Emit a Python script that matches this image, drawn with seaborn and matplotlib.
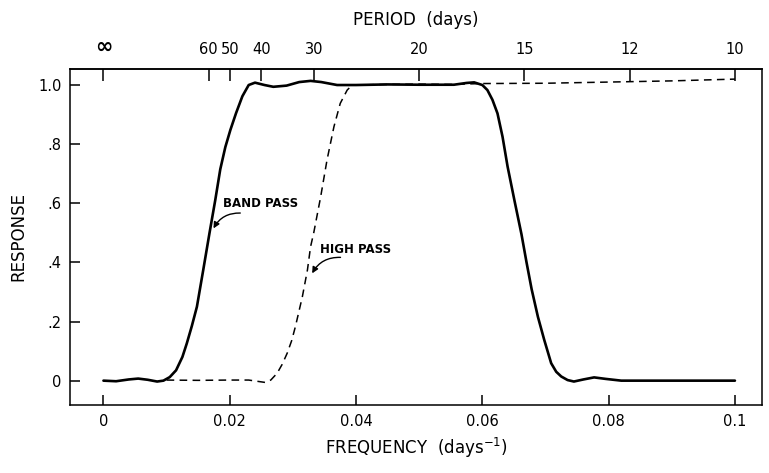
import numpy as np
import pandas as pd
import matplotlib
matplotlib.use("Agg")
import matplotlib.pyplot as plt
import seaborn as sns

# Band-pass filter response vs frequency (cycles/day)
band_freq = [0.000, 0.002, 0.004, 0.0055, 0.007, 0.0085, 0.0095, 0.0105, 0.0115,
             0.0125, 0.0132, 0.0140, 0.0148, 0.0158, 0.0168, 0.0177, 0.0185,
             0.0193, 0.0201, 0.0210, 0.0220, 0.0230, 0.0240, 0.0255, 0.0269,
             0.0290, 0.0310, 0.0328, 0.0345, 0.0370, 0.0400, 0.0450, 0.0500,
             0.0555, 0.0575, 0.0587, 0.0600, 0.0608, 0.0616, 0.0624, 0.0632,
             0.0640, 0.0651, 0.0662, 0.0670, 0.0678, 0.0688, 0.0698, 0.0709,
             0.0717, 0.0725, 0.0735, 0.0745, 0.0760, 0.0777, 0.0795, 0.0820,
             0.0900, 0.1000]
band_resp = [0.000, -0.002, 0.004, 0.007, 0.003, -0.003, 0.000, 0.012, 0.035,
             0.080, 0.126, 0.185, 0.250, 0.374, 0.500, 0.610, 0.715,
             0.790, 0.848, 0.905, 0.962, 1.000, 1.008, 1.000, 0.994,
             0.998, 1.010, 1.014, 1.010, 1.000, 1.000, 1.002, 1.001,
             1.001, 1.007, 1.009, 1.000, 0.983, 0.950, 0.904, 0.825,
             0.724, 0.608, 0.495, 0.400, 0.310, 0.216, 0.138, 0.059,
             0.030, 0.014, 0.002, -0.003, 0.004, 0.011, 0.006, 0.000,
             0.000, 0.000]

# High-pass filter response
high_freq = [0.0100, 0.0150, 0.0200, 0.0230, 0.0256, 0.0265, 0.0275, 0.0283,
             0.0291, 0.0298, 0.0304, 0.0315, 0.0323, 0.0328, 0.0333, 0.0344,
             0.0354, 0.0365, 0.0375, 0.0386, 0.0394, 0.0450, 0.0500, 0.0550,
             0.0600, 0.0700, 0.0800, 0.0900, 0.1000]
high_resp = [0.002, 0.001, 0.002, 0.002, -0.006, 0.002, 0.025, 0.055,
             0.093, 0.135, 0.183, 0.284, 0.374, 0.453, 0.500, 0.622,
             0.746, 0.859, 0.938, 0.983, 1.000, 1.002, 1.003, 1.002,
             1.005, 1.006, 1.010, 1.014, 1.020]

freq_ticks = [0, 0.02, 0.04, 0.06, 0.08, 0.1]
freq_labels = ["0", "0.02", "0.04", "0.06", "0.08", "0.1"]
resp_ticks = [0, 0.2, 0.4, 0.6, 0.8, 1.0]
resp_labels = ["0", ".2", ".4", ".6", ".8", "1.0"]
period_values = [np.inf, 60, 50, 40, 30, 20, 15, 12, 10]
period_labels = ["∞", "60", "50", "40", "30", "20", "15", "12", "10"]

sns.set_theme(style="ticks")
plt.rcParams["font.family"] = ["DejaVu Sans"]
for key in ("text.color", "axes.labelcolor", "xtick.color", "ytick.color",
            "axes.edgecolor"):
    plt.rcParams[key] = "black"

band = pd.DataFrame({"freq": band_freq, "resp": band_resp})
high = pd.DataFrame({"freq": high_freq, "resp": high_resp})

fig = plt.figure(figsize=(7.69, 4.73), dpi=100)
ax = fig.add_axes([0.091, 0.144, 0.900, 0.710])

sns.lineplot(data=band, x="freq", y="resp", ax=ax, sort=False,
             color="black", linewidth=1.9, estimator=None)
sns.lineplot(data=high, x="freq", y="resp", ax=ax, sort=False,
             color="black", linewidth=1.1, estimator=None)
ax.lines[-1].set_dashes([5, 3.5])

ax.set_xlim(-0.0053, 0.1043)
ax.set_ylim(-0.082, 1.054)

ax.set_xticks(freq_ticks)
ax.set_xticklabels(freq_labels)
ax.set_yticks(resp_ticks)
ax.set_yticklabels(resp_labels)

ax.tick_params(axis="x", direction="in", length=7, width=1.1, pad=6.5,
               labelsize=10.5, bottom=True, top=False)
ax.tick_params(axis="y", direction="in", length=7, width=1.1, pad=6,
               labelsize=10.5, left=True, right=False)

for s in ax.spines.values():
    s.set_linewidth(1.1)
    s.set_color("black")

# Period scale along the top edge
top = ax.secondary_xaxis("top")
top.set_xticks([0 if np.isinf(p) else 1.0 / p for p in period_values])
top.set_xticklabels(period_labels)
top.tick_params(direction="in", length=8.5, width=1.1, pad=9, labelsize=10.5)
top.get_xticklabels()[0].set_fontsize(15)
top.get_xticklabels()[0].set_fontweight("bold")
top.spines["top"].set_linewidth(1.1)
top.set_xlabel("PERIOD  (days)", fontsize=12, labelpad=8)

ax.set_xlabel("FREQUENCY  (days$^{-1}$)", fontsize=12, labelpad=5)
ax.set_ylabel("RESPONSE", fontsize=12, labelpad=8)
ax.grid(False)

arrow = dict(arrowstyle="-|>", color="black", lw=1.0, mutation_scale=9,
             connectionstyle="arc3,rad=0.3", shrinkA=0, shrinkB=0)
ax.annotate("", xy=(0.01743, 0.515), xytext=(0.02167, 0.567), arrowprops=arrow)
ax.text(0.0190, 0.599, "BAND PASS", fontsize=8.5, fontweight="bold",
        ha="left", va="center")
ax.annotate("", xy=(0.03305, 0.363), xytext=(0.03754, 0.417), arrowprops=arrow)
ax.text(0.03437, 0.445, "HIGH PASS", fontsize=8.5, fontweight="bold",
        ha="left", va="center")

fig.savefig("out.png", dpi=100)
